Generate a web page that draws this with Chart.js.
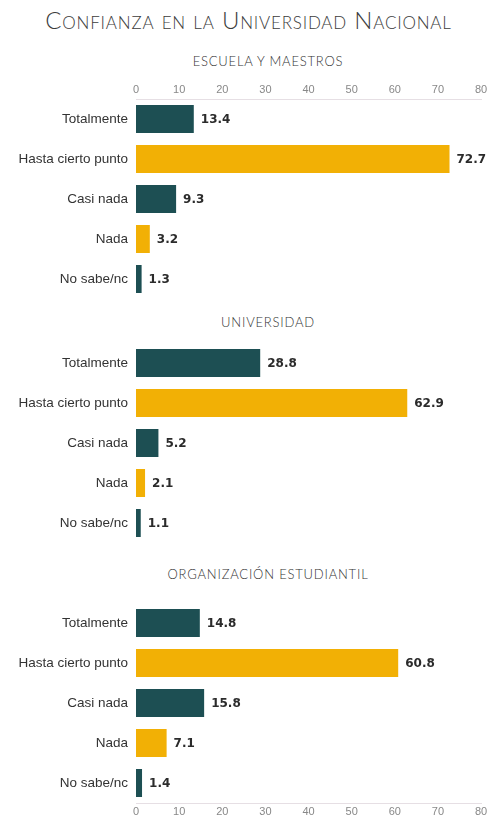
<!DOCTYPE html>
<html>
<head>
<meta charset="utf-8">
<script src="https://cdn.jsdelivr.net/npm/chart.js@4"></script>
<style>
  body { margin: 0; background: #fff; width: 494px; height: 816px; overflow: hidden; position: relative; font-family: "Liberation Sans", Arial, sans-serif; }
  .main-title { position: absolute; left: 0; width: 497px; top: 5px; text-align: center; font-family: Lato, "Open Sans", sans-serif; font-weight: 300; font-variant: small-caps; font-size: 24px; color: #3c3c3c; letter-spacing: 0.8px; }
  .panel-title { position: absolute; left: 118px; width: 300px; text-align: center; font-family: Lato, sans-serif; font-weight: 300; font-size: 13px; color: #333; letter-spacing: 0.8px; }
  .wrap { position: absolute; left: 0; width: 494px; }
</style>
</head>
<body>
<div class="main-title">Confianza en la Universidad Nacional</div>
<div class="panel-title" style="top:53px">ESCUELA Y MAESTROS</div>
<div class="panel-title" style="top:314px">UNIVERSIDAD</div>
<div class="panel-title" style="top:566px">ORGANIZACIÓN ESTUDIANTIL</div>

<div class="wrap" style="top:78px;height:221px"><canvas id="c1"></canvas></div>
<div class="wrap" style="top:343px;height:200px"><canvas id="c2"></canvas></div>
<div class="wrap" style="top:603px;height:213px"><canvas id="c3"></canvas></div>

<script>
const categories = ['Totalmente', 'Hasta cierto punto', 'Casi nada', 'Nada', 'No sabe/nc'];
const escuela = [13.4, 72.7, 9.3, 3.2, 1.3];
const universidad = [28.8, 62.9, 5.2, 2.1, 1.1];
const organizacion = [14.8, 60.8, 15.8, 7.1, 1.4];
const xTicks = [0, 10, 20, 30, 40, 50, 60, 70, 80];

const teal = '#1d4f53';
const gold = '#f2b005';
const barColors = [teal, gold, teal, gold, teal];

// value labels at the end of each bar
const valueLabels = {
  id: 'valueLabels',
  afterDatasetsDraw(chart) {
    const ctx = chart.ctx;
    const meta = chart.getDatasetMeta(0);
    ctx.save();
    ctx.font = 'bold 12px "DejaVu Sans", Verdana, sans-serif';
    ctx.fillStyle = '#2b2b2b';
    ctx.textBaseline = 'middle';
    meta.data.forEach((bar, i) => {
      ctx.fillText(chart.data.datasets[0].data[i].toFixed(1), bar.x + 7, bar.y + 1);
    });
    ctx.restore();
  }
};

function makeChart(id, values, axisPos) {
  const ctx = document.getElementById(id).getContext('2d');
  return new Chart(ctx, {
    type: 'bar',
    data: {
      labels: categories,
      datasets: [{
        data: values,
        backgroundColor: barColors,
        barPercentage: 0.7,
        categoryPercentage: 1.0
      }]
    },
    options: {
      indexAxis: 'y',
      responsive: true,
      maintainAspectRatio: false,
      animation: false,
      layout: { padding: { left: 0, right: 13, top: 0, bottom: 0 } },
      plugins: { legend: { display: false }, tooltip: { enabled: false } },
      scales: {
        x: {
          display: axisPos !== null,
          position: axisPos || 'bottom',
          min: 0,
          max: 80,
          afterBuildTicks: (scale) => { scale.ticks = xTicks.map(v => ({ value: v })); },
          afterFit: (scale) => {
            scale.height = axisPos === 'top' ? 21 : (axisPos === 'bottom' ? 13 : 0);
            scale.paddingLeft = 0;
            scale.paddingRight = 0;
          },
          grid: { display: false, drawTicks: false },
          border: { display: true, color: '#e6dfe4', width: 1 },
          ticks: {
            padding: 2,
            color: '#888',
            font: { family: '"Liberation Sans", sans-serif', size: 11 }
          }
        },
        y: {
          afterFit: (scale) => {
            scale.width = 136;
            scale.paddingTop = 0;
            scale.paddingBottom = 0;
          },
          grid: { display: false, drawTicks: false },
          border: { display: false },
          ticks: {
            padding: 8,
            color: '#333',
            font: { family: '"Liberation Sans", sans-serif', size: 13.5 }
          }
        }
      }
    },
    plugins: [valueLabels]
  });
}

makeChart('c1', escuela, 'top');
makeChart('c2', universidad, null);
makeChart('c3', organizacion, 'bottom');
</script>
</body>
</html>
